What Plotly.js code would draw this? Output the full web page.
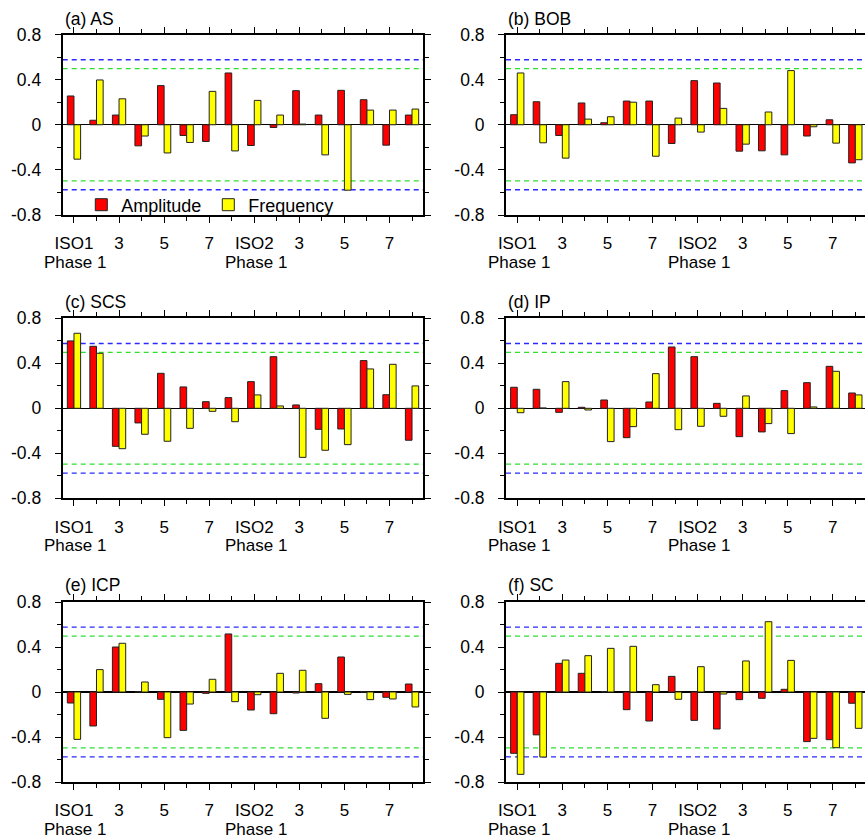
<!DOCTYPE html>
<html>
<head>
<meta charset="utf-8">
<script src="https://cdn.plot.ly/plotly-3.0.1.min.js"></script>
<style>html,body{margin:0;padding:0;background:#fff;}#chart{width:865px;height:838px;}</style>
</head>
<body>
<div id="chart"></div>
<script>
// ---- data ----
const phaseIndex = [1,2,3,4,5,6,7,8,9,10,11,12,13,14,15,16];
const tickPositions = [1,3,5,7,9,11,13,15];
const tickLabels = ['ISO1','3','5','7','ISO2','3','5','7'];
const subLabelPositions = [1, 9];
const subLabels = ['Phase 1', 'Phase 1'];
const panelTitles = ['(a) AS','(b) BOB','(c) SCS','(d) IP','(e) ICP','(f) SC'];

const amp_AS  = [0.255,0.040,0.086,-0.187,0.347,-0.095,-0.148,0.459,-0.184,-0.024,0.302,0.086,0.305,0.222,-0.181,0.086];
const freq_AS = [-0.305,0.397,0.230,-0.100,-0.250,-0.157,0.296,-0.232,0.216,0.086,0.006,-0.267,-0.580,0.130,0.130,0.139];

const amp_BOB  = [0.089,0.204,-0.095,0.193,0.018,0.210,0.210,-0.166,0.391,0.370,-0.234,-0.231,-0.267,-0.100,0.044,-0.338];
const freq_BOB = [0.459,-0.160,-0.296,0.050,0.071,0.200,-0.279,0.059,-0.065,0.145,-0.172,0.113,0.480,-0.018,-0.163,-0.310];

const amp_SCS  = [0.599,0.551,-0.338,-0.130,0.311,0.190,0.059,0.095,0.237,0.459,0.030,-0.187,-0.184,0.424,0.121,-0.284];
const freq_SCS = [0.667,0.489,-0.359,-0.231,-0.293,-0.178,-0.027,-0.119,0.119,0.021,-0.436,-0.373,-0.323,0.350,0.391,0.199];

const amp_IP  = [0.187,0.169,-0.036,0.009,0.074,-0.261,0.056,0.545,0.459,0.044,-0.252,-0.210,0.157,0.228,0.373,0.136];
const freq_IP = [-0.039,0.003,0.237,-0.015,-0.296,-0.163,0.308,-0.190,-0.160,-0.071,0.110,-0.136,-0.225,0.012,0.329,0.119];

const amp_ICP  = [-0.098,-0.302,0.400,0.003,-0.065,-0.341,-0.012,0.516,-0.160,-0.193,-0.009,0.074,0.311,0.003,-0.047,0.071];
const freq_ICP = [-0.421,0.199,0.433,0.089,-0.406,-0.107,0.113,-0.086,-0.024,0.166,0.193,-0.234,-0.021,-0.068,-0.062,-0.133];

const amp_SC  = [-0.545,-0.381,0.255,0.166,0.003,-0.157,-0.258,0.139,-0.252,-0.329,-0.068,-0.056,0.024,-0.441,-0.424,-0.100];
const freq_SC = [-0.732,-0.578,0.284,0.323,0.388,0.406,0.065,-0.065,0.225,-0.018,0.276,0.625,0.281,-0.412,-0.495,-0.323];

const sig95 = 0.576;   // blue dashed
const sig90 = 0.497;   // green dashed

const ampSeries  = [amp_AS, amp_BOB, amp_SCS, amp_IP, amp_ICP, amp_SC];
const freqSeries = [freq_AS, freq_BOB, freq_SCS, freq_IP, freq_ICP, freq_SC];

// ---- layout geometry ----
const W = 865, H = 838;
const FONT = 'Liberation Sans, Arial, Helvetica, sans-serif';
const colX = [[62.7, 423.3], [506, 865]];
const rowY = [[34.5, 215], [318.3, 498.3], [602, 782]];
const titleY = [19, 301.7, 585];

const traces = [];
const layout = {
  width: W, height: H,
  margin: {l: 0, r: 0, t: 0, b: 0},
  paper_bgcolor: '#fff', plot_bgcolor: '#fff',
  font: {family: FONT, size: 17, color: '#000'},
  barmode: 'group', bargap: 0.41, bargroupgap: 0,
  showlegend: true,
  legend: {
    orientation: 'h', x: 0.094, y: 1 - 205/H, xanchor: 'left', yanchor: 'middle',
    bgcolor: 'rgba(0,0,0,0)', font: {family: FONT, size: 18, color: '#000'},
    entrywidth: 82, entrywidthmode: 'pixels', tracegroupgap: 0
  },
  shapes: [], annotations: []
};

for (let i = 0; i < 6; i++) {
  const col = i % 2, row = Math.floor(i / 2);
  const sfx = i === 0 ? '' : String(i + 1);
  const xa = 'x' + sfx, ya = 'y' + sfx;
  traces.push({
    type: 'bar', x: phaseIndex, y: ampSeries[i], xaxis: xa, yaxis: ya,
    name: 'Amplitude', legendgroup: 'amp', showlegend: i === 0,
    marker: {color: '#ff0000', line: {color: '#222', width: 1}}, offsetgroup: 'a'
  });
  traces.push({
    type: 'bar', x: phaseIndex, y: freqSeries[i], xaxis: xa, yaxis: ya,
    name: 'Frequency', legendgroup: 'freq', showlegend: i === 0,
    marker: {color: '#ffff00', line: {color: '#222', width: 1}}, offsetgroup: 'f'
  });
  const xr = col === 0 ? [0.5, 16.5] : [0.5, 16.5 - (colX[1][0] + 360.6 - W) / 22.54];
  layout['xaxis' + sfx] = {
    domain: [colX[col][0] / W, colX[col][1] / W], anchor: ya,
    range: xr, tickmode: 'array', tickvals: tickPositions, ticktext: tickLabels,
    ticks: 'outside', ticklen: 6, tickwidth: 1, tickcolor: '#000',
    minor: {tickmode: 'linear', tick0: 0, dtick: 1, ticks: 'outside', ticklen: 4, tickwidth: 1, tickcolor: '#000'},
    showline: true, linecolor: '#000', linewidth: 2, mirror: 'ticks',
    showgrid: false, zeroline: false, ticklabelstandoff: 6,
    tickfont: {family: FONT, size: 17, color: '#000'}, fixedrange: true
  };
  layout['yaxis' + sfx] = {
    domain: [1 - rowY[row][1] / H, 1 - rowY[row][0] / H], anchor: xa,
    range: [-0.8, 0.8], tickmode: 'array', tickvals: [-0.8, -0.4, 0, 0.4, 0.8],
    ticktext: ['-0.8', '-0.4', '0', '0.4', '0.8'],
    ticks: 'outside', ticklen: 6, tickwidth: 1, tickcolor: '#000',
    minor: {tickmode: 'linear', tick0: 0, dtick: 0.2, ticks: 'outside', ticklen: 4, tickwidth: 1, tickcolor: '#000'},
    showline: true, linecolor: '#000', linewidth: 2, mirror: 'ticks',
    showgrid: false, zeroline: true, zerolinecolor: '#000', zerolinewidth: 1.3,
    ticklabelstandoff: 10,
    tickfont: {family: FONT, size: 17.5, color: '#000'}, fixedrange: true
  };
  [[sig95, '#2a2aff'], [-sig95, '#2a2aff'], [sig90, '#2ee02e'], [-sig90, '#2ee02e']].forEach(([v, c]) => {
    layout.shapes.push({
      type: 'line', xref: xa + ' domain', yref: ya, x0: 0, x1: 1, y0: v, y1: v,
      line: {color: c, width: 1.3, dash: '5px,4px'}, layer: 'below'
    });
  });
  layout.annotations.push({
    text: panelTitles[i], xref: 'paper', yref: 'paper',
    x: colX[col][0] / W, y: 1 - titleY[row] / H, xanchor: 'left', yanchor: 'middle',
    showarrow: false, font: {family: FONT, size: 17.5, color: '#000'}
  });
  subLabelPositions.forEach((p, k) => {
    layout.annotations.push({
      text: subLabels[k], xref: xa, yref: 'paper',
      x: p, xshift: 1.5, y: 1 - (rowY[row][1] + 47.5) / H, xanchor: 'center', yanchor: 'middle',
      showarrow: false, borderpad: 0, font: {family: FONT, size: 17, color: '#000'}
    });
  });
}

Plotly.newPlot('chart', traces, layout, {displayModeBar: false, staticPlot: true});
</script>
</body>
</html>
